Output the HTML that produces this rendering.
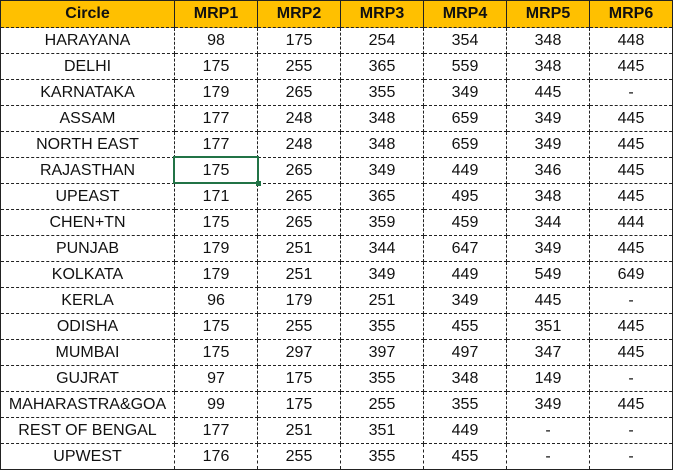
<!DOCTYPE html>
<html><head><meta charset="utf-8"><style>
body{margin:0;background:#fff;width:674px;height:470px;overflow:hidden;font-family:"Liberation Sans",Arial,sans-serif;}
table{position:absolute;left:0;top:0;border-collapse:collapse;table-layout:fixed;}
td,th{height:25px;padding:0;text-align:center;font-size:16px;color:#111;border:1px dashed #222;white-space:nowrap;}
th{background:#FFC000;font-weight:bold;height:26px;border:1px solid #222;border-bottom:1px dashed #222;}
tr:first-child th{border-top:1px solid #222;}
td:first-child,th:first-child{border-left:1px solid #222;}
td:last-child,th:last-child{border-right:1px solid #222;}
tr:last-child td{border-bottom:1px solid #222;}
.sel{position:absolute;left:173px;top:156px;width:82px;height:24px;border:2px solid #217346;}
.sel:after{content:"";position:absolute;right:-4px;bottom:-4px;width:5px;height:5px;background:#217346;}
</style></head><body>
<table>
<colgroup><col style="width:174px"><col style="width:83px"><col style="width:83px"><col style="width:83px"><col style="width:83px"><col style="width:83px"><col style="width:83px"></colgroup>
<tr><th>Circle</th><th>MRP1</th><th>MRP2</th><th>MRP3</th><th>MRP4</th><th>MRP5</th><th>MRP6</th></tr>
<tr><td>HARAYANA</td><td>98</td><td>175</td><td>254</td><td>354</td><td>348</td><td>448</td></tr>
<tr><td>DELHI</td><td>175</td><td>255</td><td>365</td><td>559</td><td>348</td><td>445</td></tr>
<tr><td>KARNATAKA</td><td>179</td><td>265</td><td>355</td><td>349</td><td>445</td><td>-</td></tr>
<tr><td>ASSAM</td><td>177</td><td>248</td><td>348</td><td>659</td><td>349</td><td>445</td></tr>
<tr><td>NORTH EAST</td><td>177</td><td>248</td><td>348</td><td>659</td><td>349</td><td>445</td></tr>
<tr><td>RAJASTHAN</td><td>175</td><td>265</td><td>349</td><td>449</td><td>346</td><td>445</td></tr>
<tr><td>UPEAST</td><td>171</td><td>265</td><td>365</td><td>495</td><td>348</td><td>445</td></tr>
<tr><td>CHEN+TN</td><td>175</td><td>265</td><td>359</td><td>459</td><td>344</td><td>444</td></tr>
<tr><td>PUNJAB</td><td>179</td><td>251</td><td>344</td><td>647</td><td>349</td><td>445</td></tr>
<tr><td>KOLKATA</td><td>179</td><td>251</td><td>349</td><td>449</td><td>549</td><td>649</td></tr>
<tr><td>KERLA</td><td>96</td><td>179</td><td>251</td><td>349</td><td>445</td><td>-</td></tr>
<tr><td>ODISHA</td><td>175</td><td>255</td><td>355</td><td>455</td><td>351</td><td>445</td></tr>
<tr><td>MUMBAI</td><td>175</td><td>297</td><td>397</td><td>497</td><td>347</td><td>445</td></tr>
<tr><td>GUJRAT</td><td>97</td><td>175</td><td>355</td><td>348</td><td>149</td><td>-</td></tr>
<tr><td>MAHARASTRA&amp;GOA</td><td>99</td><td>175</td><td>255</td><td>355</td><td>349</td><td>445</td></tr>
<tr><td>REST OF BENGAL</td><td>177</td><td>251</td><td>351</td><td>449</td><td>-</td><td>-</td></tr>
<tr><td>UPWEST</td><td>176</td><td>255</td><td>355</td><td>455</td><td>-</td><td>-</td></tr>
</table>
<div class="sel"></div>
</body></html>
